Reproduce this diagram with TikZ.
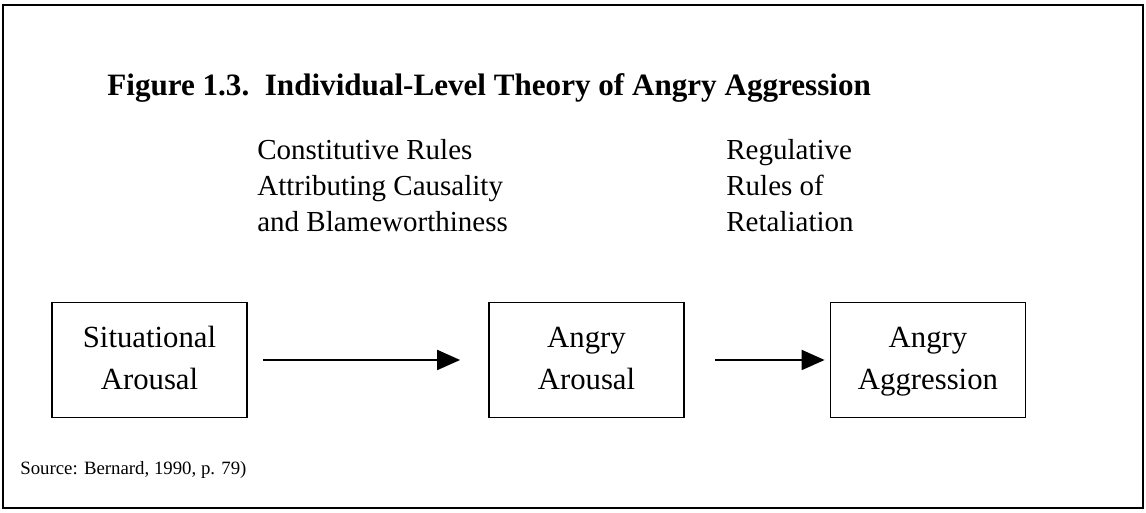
\documentclass[tikz,border=0pt]{standalone}
\usepackage{fontspec}
\setmainfont{Liberation Serif}
\usetikzlibrary{arrows.meta,positioning}
\tikzset{
  >={Triangle[length=4.6mm,width=4mm]},
  stage/.style={draw,line width=1pt,minimum width=3.9cm,minimum height=2.3cm,
    align=center,font=\fontsize{17.5}{24}\selectfont},
  rulestext/.style={anchor=west,align=left,inner sep=0pt,font=\fontsize{16.5}{20.5}\selectfont},
  flow/.style={->,line width=1.1pt},
}

\begin{document}
\begin{tikzpicture}
  \useasboundingbox (0,0) rectangle (22.92,10.26);
  % outer frame
  \draw[line width=1.2pt] (0.06,0.1) rectangle (22.86,10.16);
  \node[anchor=west,inner sep=0pt,font=\fontsize{17.7}{22}\selectfont\bfseries] (title) at (2.14,8.5)
    {Figure 1.3.\ \ Individual-Level Theory of Angry Aggression};
  % rules above the arrows
  \node[rulestext] (constitutive) at (5.14,6.54) {Constitutive Rules\\Attributing Causality\\and Blameworthiness};
  \node[rulestext] (regulative) at (14.52,6.54) {Regulative\\Rules of\\Retaliation};
  % stages
  \node[stage] (situational) at (2.99,3.06) {Situational\strut\\Arousal\strut};
  \node[stage] (arousal) at (11.73,3.06) {Angry\strut\\Arousal\strut};
  \node[stage] (aggression) at (18.56,3.06) {Angry\strut\\Aggression\strut};
  \draw[flow,shorten <=0.3cm,shorten >=0.56cm] (situational) -- (arousal);
  \draw[flow,shorten <=0.6cm,shorten >=0.1cm] (arousal) -- (aggression);
  \node[anchor=west,inner sep=0pt,font=\fontsize{10.7}{13}\selectfont] (source) at (0.4,0.86) {Source: Bernard, 1990, p. 79)};
\end{tikzpicture}
\end{document}
